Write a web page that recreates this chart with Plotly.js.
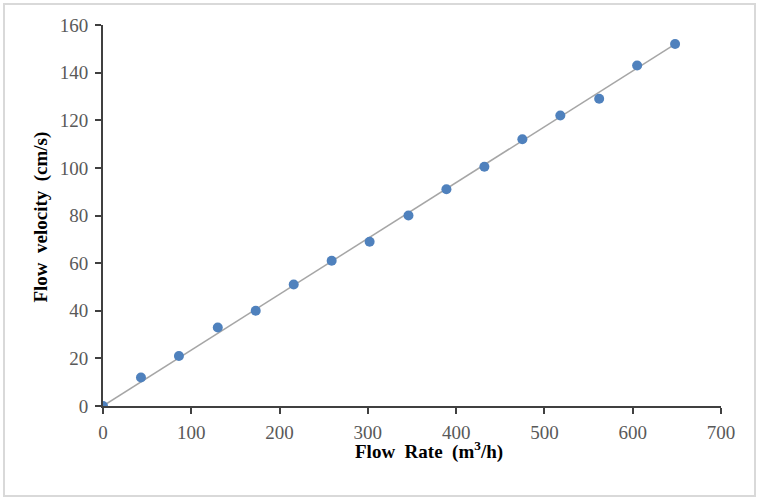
<!DOCTYPE html>
<html>
<head>
<meta charset="utf-8">
<script src="https://cdn.plot.ly/plotly-3.0.1.min.js"></script>
<style>
  body { margin: 0; background: #ffffff; }
  #plot { position: absolute; left: 0; top: 0; width: 761px; height: 500px; }
  #frame { position: absolute; left: 3px; top: 3px; width: 753px; height: 494px;
           border: 2px solid #d9d9d9; box-sizing: border-box; pointer-events: none; }
</style>
</head>
<body>
<div id="plot"></div>
<div id="frame"></div>
<script>
// measured points
const flowRate = [0, 43, 86, 130, 173, 216, 259, 302, 346, 389, 432, 475, 518, 562, 605, 648];
const flowVelocity = [0, 12, 21, 33, 40, 51, 61, 69, 80, 91, 100.5, 112, 122, 129, 143, 152];

// linear trend line ends
const trendX = [0, 648];
const trendY = [0, 152];

const xTicks = [0, 100, 200, 300, 400, 500, 600, 700];
const yTicks = [0, 20, 40, 60, 80, 100, 120, 140, 160];

const serif = 'Liberation Serif, Times New Roman, serif';

const trend = {
    x: trendX,
    y: trendY,
    mode: 'lines',
    line: { color: '#a6a6a6', width: 1.5 },
    hoverinfo: 'skip',
    showlegend: false
};

const points = {
    x: flowRate,
    y: flowVelocity,
    mode: 'markers',
    marker: { color: '#4f81bd', size: 10 },
    showlegend: false
};

const layout = {
    width: 761,
    height: 500,
    margin: { l: 103, r: 40, t: 25, b: 94 },
    paper_bgcolor: '#ffffff',
    plot_bgcolor: '#ffffff',
    font: { family: serif, size: 19, color: '#595959' },
    xaxis: {
        range: [0, 700],
        tickvals: xTicks,
        showgrid: false,
        zeroline: false,
        showline: true,
        linecolor: '#404040',
        linewidth: 2,
        ticks: 'outside',
        ticklen: 6,
        tickwidth: 2,
        tickcolor: '#404040',
        ticklabelstandoff: 2,
        fixedrange: true
    },
    yaxis: {
        range: [0, 160],
        tickvals: yTicks,
        showgrid: false,
        zeroline: false,
        showline: true,
        linecolor: '#404040',
        linewidth: 2,
        ticks: 'outside',
        ticklen: 6,
        tickwidth: 2,
        tickcolor: '#404040',
        ticklabelstandoff: 3,
        fixedrange: true
    },
    annotations: [
        {
            text: '<b>Flow  Rate  (m<sup>3</sup>/h)</b>',
            xref: 'paper', yref: 'paper',
            x: 0.0275 + 0.5, y: -0.118,
            xanchor: 'center', yanchor: 'middle',
            showarrow: false,
            font: { family: serif, size: 19, color: '#000000' }
        },
        {
            text: '<b>Flow  velocity  (cm/s)</b>',
            xref: 'paper', yref: 'paper',
            x: -0.1, y: 0.495,
            xanchor: 'center', yanchor: 'middle',
            textangle: -90,
            showarrow: false,
            font: { family: serif, size: 19, color: '#000000' }
        }
    ]
};

Plotly.newPlot('plot', [trend, points], layout, { displayModeBar: false, staticPlot: true });
</script>
</body>
</html>
